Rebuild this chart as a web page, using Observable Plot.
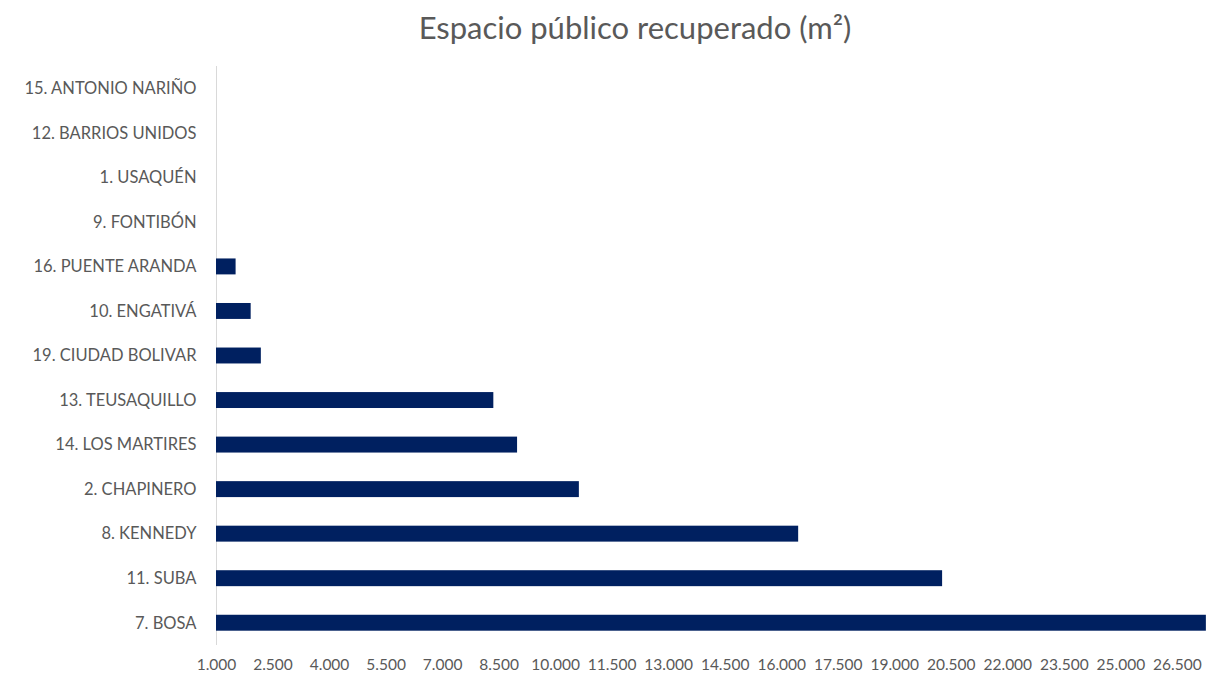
<!DOCTYPE html>
<html>
<head>
<meta charset="utf-8">
<script src="https://cdn.jsdelivr.net/npm/d3@7"></script>
<script src="https://cdn.jsdelivr.net/npm/@observablehq/plot@0.6"></script>
<style>
  html, body { margin: 0; padding: 0; background: #fff; }
  #wrap { position: relative; width: 1212px; height: 677px; font-family: Lato, "Open Sans", sans-serif; }
  #title { position: absolute; left: 0; top: 12px; width: 1270px; text-align: center; font-size: 31px; color: #595959; line-height: 1; }
  #chart { position: absolute; left: 0; top: 60px; line-height: 0; }
</style>
</head>
<body>
<div id="wrap">
  <div id="title">Espacio público recuperado (m²)</div>
  <div id="chart"></div>
</div>
<script>
const categories = [
  "15. ANTONIO NARIÑO",
  "12. BARRIOS UNIDOS",
  "1. USAQUÉN",
  "9. FONTIBÓN",
  "16. PUENTE ARANDA",
  "10. ENGATIVÁ",
  "19. CIUDAD BOLIVAR",
  "13. TEUSAQUILLO",
  "14. LOS MARTIRES",
  "2. CHAPINERO",
  "8. KENNEDY",
  "11. SUBA",
  "7. BOSA"
];
const values = [0, 0, 0, 0, 1520, 1920, 2190, 8360, 8990, 10630, 16450, 20270, 27270];
const xTicks = [1000, 2500, 4000, 5500, 7000, 8500, 10000, 11500, 13000, 14500, 16000, 17500, 19000, 20500, 22000, 23500, 25000, 26500];
const xMin = 1000, xMax = 27300;

const data = categories.map((c, i) => ({ category: c, value: values[i] }));
const fmt = d3.formatLocale({ decimal: ",", thousands: ".", grouping: [3], currency: ["$", ""] }).format(",");

const chart = Plot.plot({
  width: 1212,
  height: 617,
  marginTop: 6,
  marginBottom: 32,
  marginLeft: 216,
  marginRight: 5,
  style: { fontFamily: "Lato, 'Open Sans', sans-serif", color: "#595959", background: "#fff" },
  x: { domain: [xMin, xMax], ticks: xTicks, tickFormat: fmt, label: null },
  y: { domain: categories, padding: 0, round: false, label: null },
  marks: [
    Plot.ruleX([xMin], { stroke: "#d9d9d9", strokeWidth: 1 }),
    Plot.barX(data.filter(d => d.value > xMin), { x1: xMin, x2: "value", y: "category", fill: "#002060", insetTop: 14.3, insetBottom: 14.3 }),
    Plot.axisY({ tickSize: 0, tickPadding: 20, fontSize: 16.5, label: null }),
    Plot.axisX({ tickSize: 0, tickPadding: 13, fontSize: 15.5, label: null, ticks: xTicks, tickFormat: fmt })
  ]
});
document.getElementById("chart").appendChild(chart);
</script>
</body>
</html>
